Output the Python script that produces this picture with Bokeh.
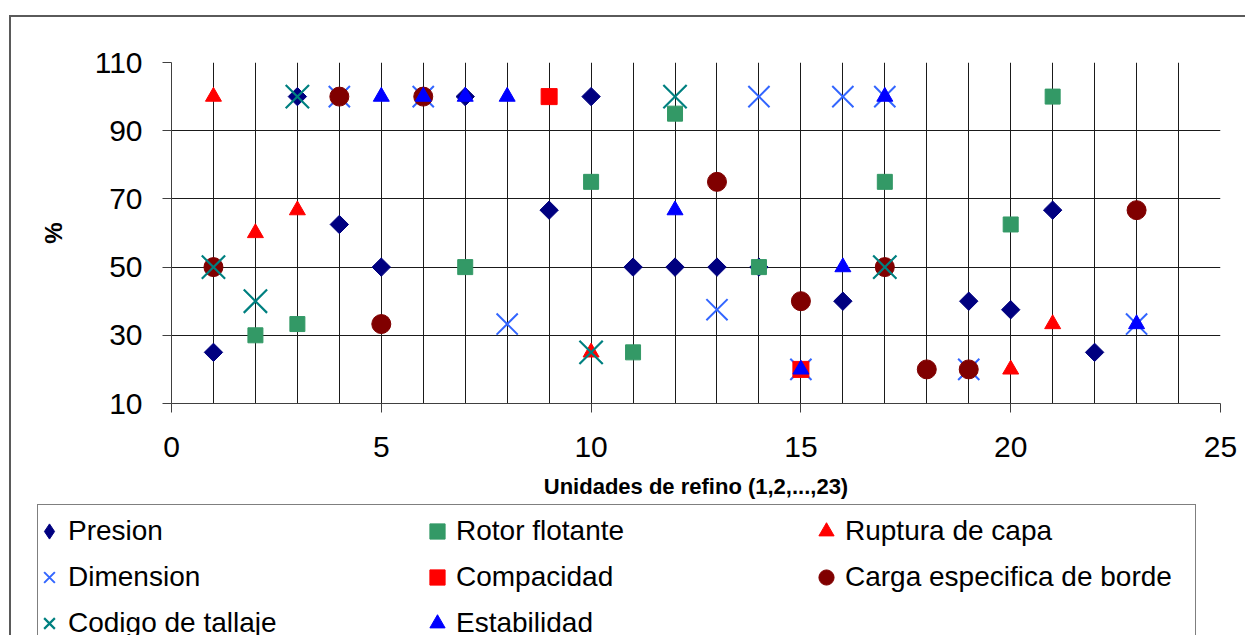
from bokeh.plotting import figure
from bokeh.layouts import column
from bokeh.models import Range1d, FixedTicker, Legend, LegendItem
from bokeh.embed import file_html
from bokeh.resources import INLINE
import math

# ---- data ----
presion_x = [1, 3, 4, 5, 7, 9, 10, 11, 12, 13, 14, 16, 19, 20, 21, 22]
presion_y = [25, 100, 62.5, 50, 100, 66.7, 100, 50, 50, 50, 50, 40, 40, 37.5, 66.7, 25]

rotor_x = [2, 3, 7, 10, 11, 12, 14, 17, 20, 21]
rotor_y = [30, 33.3, 50, 75, 25, 95, 50, 75, 62.5, 100]

ruptura_x = [1, 2, 3, 10, 20, 21]
ruptura_y = [100, 60, 66.7, 25, 20, 33.3]

dimension_x = [4, 6, 8, 13, 14, 15, 16, 17, 19, 23]
dimension_y = [100, 100, 33.3, 37.5, 100, 20, 100, 100, 20, 33.3]

compacidad_x = [9, 15]
compacidad_y = [100, 20]

carga_x = [1, 4, 5, 6, 13, 15, 17, 18, 19, 23]
carga_y = [50, 100, 33.3, 100, 75, 40, 50, 20, 20, 66.7]

codigo_x = [1, 2, 3, 10, 12, 17]
codigo_y = [50, 40, 100, 25, 100, 50]

estab_x = [5, 6, 7, 8, 12, 15, 16, 17, 23]
estab_y = [100, 100, 100, 100, 66.7, 20, 50, 100, 33.3]

series_names = ["Presion", "Rotor flotante", "Ruptura de capa", "Dimension",
                "Compacidad", "Carga especifica de borde", "Codigo de tallaje", "Estabilidad"]

x_ticks = [0, 5, 10, 15, 20, 25]
y_ticks = [10, 30, 50, 70, 90, 110]
x_grid = list(range(1, 25))
y_grid = [30, 50, 70, 90]

FONT = "Liberation Sans"

# marker styles: (marker, size, fill, line, line_width, angle, legend marker)
STYLES = [
    ("square", 13, "#000080", "#000080", 1, math.pi / 4, "diamond"),
    ("square", 15, "#339966", "#339966", 1, 0, "square"),
    ("triangle", 16, "#FF0000", "#FF0000", 1, 0, "triangle"),
    ("x", 30, None, "#3366FF", 2, 0, "x"),
    ("square", 16, "#FF0000", "#FF0000", 1, 0, "square"),
    ("circle", 19, "#800000", "#800000", 1, 0, "circle"),
    ("x", 33, None, "#008080", 2.2, 0, "x"),
    ("triangle", 16, "#0000FF", "#0000FF", 1, 0, "triangle"),
]
DATA = [(presion_x, presion_y), (rotor_x, rotor_y), (ruptura_x, ruptura_y),
        (dimension_x, dimension_y), (compacidad_x, compacidad_y), (carga_x, carga_y),
        (codigo_x, codigo_y), (estab_x, estab_y)]

# ---------------- main chart ----------------
p = figure(width=1234, height=486,
           x_range=Range1d(0, 25), y_range=Range1d(10, 110),
           output_backend="svg", toolbar_location=None,
           min_border_left=160, min_border_right=25,
           min_border_top=45, min_border_bottom=100)
p.frame_align = False
p.outline_line_color = None

p.xgrid.ticker = FixedTicker(ticks=x_grid)
p.ygrid.ticker = FixedTicker(ticks=y_grid)
for g in (p.xgrid, p.ygrid):
    g.grid_line_color = "#1a1a1a"
    g.grid_line_width = 1

p.xaxis.ticker = FixedTicker(ticks=x_ticks)
p.yaxis.ticker = FixedTicker(ticks=y_ticks)
for ax in (p.xaxis, p.yaxis):
    ax.axis_line_color = "#404040"
    ax.major_tick_line_color = "#404040"
    ax.major_tick_out = 9
    ax.major_tick_in = 0
    ax.minor_tick_line_color = None
    ax.major_label_text_font = FONT
    ax.major_label_text_font_size = "30px"
    ax.major_label_text_color = "black"
    ax.axis_label_text_font = FONT
    ax.axis_label_text_font_style = "bold"
    ax.axis_label_text_color = "black"
p.xaxis.axis_label = "Unidades de refino (1,2,...,23)"
p.xaxis.axis_label_text_font_size = "22px"
p.xaxis.major_label_standoff = 24
p.xaxis.axis_label_standoff = 14
p.yaxis.axis_label = "%"
p.yaxis.axis_label_text_font_size = "24px"
p.yaxis.major_label_standoff = 20
p.yaxis.axis_label_standoff = 25

for (xs, ys), (mk, sz, fc, lc, lw, ang, _) in zip(DATA, STYLES):
    p.scatter(xs, ys, marker=mk, size=sz, angle=ang,
              fill_color=fc, line_color=lc, line_width=lw)

# ---------------- legend panel ----------------
LH = 132
p2 = figure(width=1234, height=LH, x_range=Range1d(0, 1), y_range=Range1d(0, 1),
            output_backend="svg", toolbar_location=None,
            x_axis_location=None, y_axis_location=None,
            min_border=0, min_border_left=0, min_border_right=0,
            min_border_top=0, min_border_bottom=0)
p2.frame_align = False
p2.outline_line_color = None
p2.grid.visible = False

proxies = []
for mk, sz, fc, lc, lw, ang, lmk in STYLES:
    proxies.append(p2.scatter([-10], [-10], marker=lmk, size=sz,
                              fill_color=fc, line_color=lc, line_width=lw))
blank = p2.scatter([-10], [-10], marker="circle", size=1, fill_alpha=0, line_alpha=0)

# outer box of the legend
box = Legend(items=[LegendItem(label=" ", renderers=[blank])],
             location=(26, LH - 3 - 150), glyph_width=1, glyph_height=1,
             label_width=1156, label_height=150, label_standoff=0,
             padding=0, margin=0, spacing=0,
             border_line_color="black", border_line_width=1,
             background_fill_color="white", background_fill_alpha=1,
             label_text_font_size="10px")
p2.add_layout(box)


def col_legend(idx, left):
    h = 46 * len(idx)
    leg = Legend(items=[LegendItem(label=series_names[i], renderers=[proxies[i]]) for i in idx],
                 location=(left, LH - 5 - h), orientation="vertical",
                 glyph_width=38, glyph_height=46, label_height=46, label_width=100,
                 label_standoff=0, spacing=0, padding=0, margin=0,
                 border_line_color=None, background_fill_alpha=0,
                 label_text_font=FONT, label_text_font_size="28px",
                 label_text_color="black")
    return leg


p2.add_layout(col_legend([0, 3, 6], 19))
p2.add_layout(col_legend([1, 4, 7], 407))
p2.add_layout(col_legend([2, 5], 796))

layout = column(p, p2, spacing=0,
                styles={"margin-left": "9px", "margin-top": "15px",
                        "border-left": "2px solid #5a5a5a",
                        "border-top": "2px solid #5a5a5a"})

open("out.html", "w").write(file_html(layout, INLINE))
